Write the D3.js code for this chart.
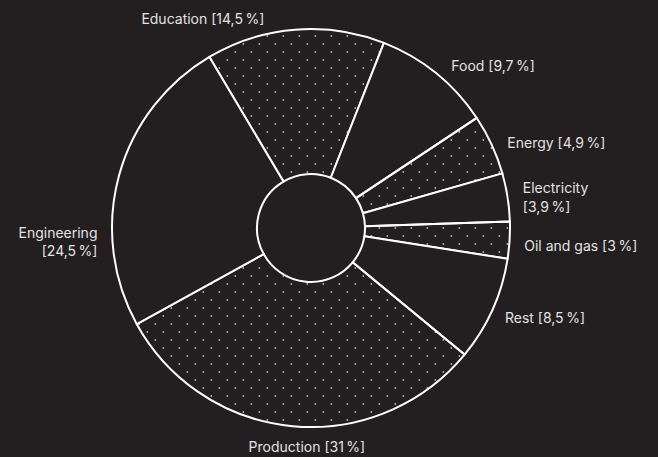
<!DOCTYPE html>
<html><head><meta charset="utf-8">
<script src="https://cdn.jsdelivr.net/npm/d3@7"></script>
<style>
html,body{margin:0;padding:0;background:#231f20;}
svg{display:block;}
text{font-family:Inter,"Noto Sans",sans-serif;font-size:14px;fill:#e2e2e2;}
</style></head>
<body>
<svg id="chart" width="658" height="457"></svg>
<script>
const categories = ["Education","Food","Energy","Electricity","Oil and gas","Rest","Production","Engineering"];
const shares = [14.5, 9.7, 4.9, 3.9, 3, 8.5, 31, 24.5];
const shareLabels = ["14,5","9,7","4,9","3,9","3","8,5","31","24,5"];
const dotted = [true,false,true,false,true,false,true,false];
// label layout (angle nudge in degrees, and line breaks)
const labelNudge = [-8, 2, 1.3, 0.7, 1.2, 0.8, -4.2, -19];
const labelBreak = [false,false,false,true,false,false,false,true];

const W = 658, H = 457, cx = 311, cy = 228, R = 199, r = 54;
const svg = d3.select("#chart");
svg.append("rect").attr("width",W).attr("height",H).attr("fill","#231f20");

const defs = svg.append("defs");
const pat = defs.append("pattern").attr("id","dots").attr("patternUnits","userSpaceOnUse")
  .attr("width",16).attr("height",16).attr("x",-cx).attr("y",-cy);
pat.append("circle").attr("cx",3.3).attr("cy",12).attr("r",0.8).attr("fill","#ffffff");
pat.append("circle").attr("cx",11.3).attr("cy",4).attr("r",0.8).attr("fill","#ffffff");

const data = categories.map((c,i)=>({name:c, value:shares[i], label:shareLabels[i], dotted:dotted[i], i}));
const startA = -30.7*Math.PI/180;
const pie = d3.pie().value(d=>d.value).sort(null).startAngle(startA).endAngle(startA+2*Math.PI);
const arcs = pie(data);
const arc = d3.arc().innerRadius(r).outerRadius(R);

const g = svg.append("g").attr("transform",`translate(${cx},${cy})`);
g.selectAll("path.slice").data(arcs).join("path").attr("class","slice")
  .attr("d",arc)
  .attr("fill",d=>d.data.dotted?"url(#dots)":"#231f20")
  .attr("stroke","#ffffff").attr("stroke-width",2).attr("stroke-linejoin","round");

const LR = 214;
arcs.forEach(d=>{
  const i = d.data.i;
  const a = (d.startAngle+d.endAngle)/2 + labelNudge[i]*Math.PI/180;
  const x = LR*Math.sin(a), y = -LR*Math.cos(a);
  let anchor = Math.abs(x) < 30 ? "middle" : (x>0?"start":"end");
  const pct = `[${d.data.label}\u202F%]`;
  const lines = labelBreak[i] ? [d.data.name, pct] : [`${d.data.name} ${pct}`];
  const t = g.append("text").attr("text-anchor",anchor);
  const lh = 18.5;
  let y0;
  if (anchor==="middle" && y>0) y0 = y + 10.5; // hanging below
  else y0 = y - (lines.length-1)*lh/2 + 5;
  lines.forEach((ln,k)=>{
    t.append("tspan").attr("x",x).attr("y",y0+k*lh).text(ln);
  });
});
</script>
</body></html>
